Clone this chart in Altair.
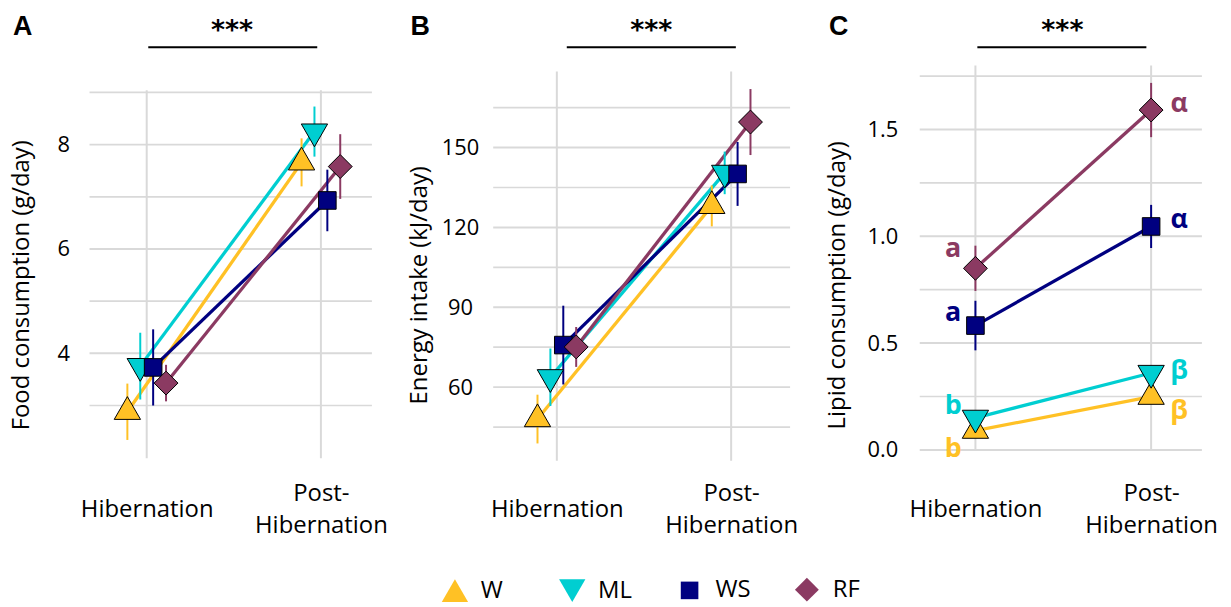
import altair as alt
import pandas as pd

# ---------------- data ----------------
groups = ["W", "ML", "WS", "RF"]
colors = ["#FFC125", "#00CED1", "#000080", "#8B3A62"]
shapes = ["triangle-up", "triangle-down", "square", "diamond"]
marker_sizes = [700, 700, 313, 576]
periods = [1, 2]
dodge = [-0.111, -0.037, 0.037, 0.111]

food_mean = [[2.88, 7.66], [3.755, 8.25], [3.73, 6.93], [3.43, 7.58]]
food_err = [[0.54, 0.46], [0.64, 0.48], [0.73, 0.59], [0.35, 0.62]]
energy_mean = [[48.0, 128.1], [63.7, 140.5], [75.8, 140.1], [75.1, 159.6]]
energy_err = [[9.16, 7.7], [10.8, 8.0], [14.8, 12.0], [7.5, 12.4]]
lipid_mean = [[0.09, 0.249], [0.15, 0.36], [0.582, 1.046], [0.85, 1.591]]
lipid_err = [[0.03, 0.03], [0.03, 0.03], [0.116, 0.101], [0.106, 0.127]]

lipid_letters_hib = ["b", "b", "a", "a"]
lipid_letters_post = ["\u03b2", "\u03b2", "\u03b1", "\u03b1"]
letter_y_hib = [0.005, 0.205, 0.64, 0.94]
letter_y_post = [0.18, 0.371, 1.078, 1.619]
letter_x = [0.873, 2.16]

FONT = "Open Sans"
GRID = "#D9D9D9"


def long_df(means, errs, use_dodge):
    rows = []
    for gi, g in enumerate(groups):
        for pi, p in enumerate(periods):
            rows.append(dict(group=g, hex=colors[gi], period=p,
                             xpos=p + (dodge[gi] if use_dodge else 0.0),
                             mean=means[gi][pi], err=errs[gi][pi]))
    return pd.DataFrame(rows)


cscale = alt.Scale(domain=groups, range=colors)
legend_b = alt.Legend(title=None, orient="none", legendX=-52.5, legendY=514,
                      direction="horizontal", columns=4, gridAlign="all",
                      labelFont=FONT, labelFontSize=24,
                      labelColor="black", symbolSize=620, symbolStrokeColor="black",
                      symbolStrokeWidth=1, symbolOpacity=1, columnPadding=40,
                      labelOffset=12)


def panel(df, ytitle, xdom, xreal, ydom, yreal, majors, minors, fmt,
          width, title_x, label_pad, letter, letter_dx, star_x, sig_x,
          extra=None, legend=None):
    xs = alt.Scale(domain=xdom, nice=False, zero=False)
    ys = alt.Scale(domain=ydom, nice=False, zero=False)
    xax = alt.Axis(values=periods, title=None, grid=False, domain=False,
                   ticks=False, tickSize=0, labelFont=FONT, labelFontSize=24,
                   labelColor="black",
                   labelBaseline=alt.condition("datum.value == 2",
                                               alt.value("line-bottom"),
                                               alt.value("middle")),
                   labelLineHeight=32,
                   labelPadding=49, labelAlign="center", labelFlush=False,
                   labelOverlap=False,
                   labelExpr="datum.value == 1 ? 'Hibernation' : ['Post-', 'Hibernation']")
    yax = alt.Axis(values=majors, title=ytitle, grid=False, domain=False,
                   ticks=False, tickSize=0, format=fmt, labelFont=FONT,
                   labelFontSize=22, labelColor="black", labelAlign="center",
                   labelPadding=label_pad, labelFlush=False, labelOverlap=False,
                   titleFont=FONT, titleFontSize=24, titleFontWeight="normal",
                   titleColor="black", titleAngle=270, titleBaseline="bottom",
                   titleAlign="center", titleX=title_x, titleY=220.6)

    def X(f):
        return alt.X(f, type="quantitative", scale=xs, axis=xax)

    def Y(f):
        return alt.Y(f, type="quantitative", scale=ys, axis=yax)

    hgrid = pd.DataFrame({"v": majors + minors,
                          "w": [2.0] * len(majors) + [1.7] * len(minors)})
    vgrid = pd.DataFrame({"p": periods})
    ann = pd.DataFrame({"x1": [sig_x[0]], "x2": [sig_x[1]], "sx": [star_x],
                        "t": ["***"], "L": [letter]})
    direct = alt.Color("hex:N", scale=None)

    layers = [
        alt.Chart(hgrid).mark_rule(color=GRID).encode(
            y=Y("v"),
            x=alt.XDatum(xreal[0], type="quantitative", scale=xs, axis=xax),
            x2=alt.X2Datum(xreal[1]),
            strokeWidth=alt.StrokeWidth("w:Q", scale=None)),
        alt.Chart(vgrid).mark_rule(color=GRID, strokeWidth=2).encode(
            x=X("p"),
            y=alt.YDatum(yreal[0], type="quantitative", scale=ys, axis=yax),
            y2=alt.Y2Datum(yreal[1])),
        alt.Chart(df).mark_line(strokeWidth=3.3).encode(
            x=X("xpos"), y=Y("mean"), color=direct, detail="group:N"),
        alt.Chart(df).transform_calculate(
            lo="datum.mean - datum.err", hi="datum.mean + datum.err"
        ).mark_rule(strokeWidth=2).encode(
            x=X("xpos"), y=Y("lo"), y2=alt.Y2("hi"), color=direct),
        alt.Chart(df).mark_point(
            filled=True, opacity=1, stroke="black", strokeWidth=1,
            yOffset=alt.expr("datum.group === 'W' ? -3.8 : (datum.group === 'ML' ? 3.8 : 0)")
        ).encode(
            x=X("xpos"), y=Y("mean"),
            color=alt.Color("group:N", scale=cscale, legend=legend),
            shape=alt.Shape("group:N", scale=alt.Scale(domain=groups, range=shapes), legend=legend),
            size=alt.Size("group:N", scale=alt.Scale(type="ordinal", domain=groups, range=marker_sizes),
                          legend=None),
            stroke=alt.value("black"),
            strokeWidth=alt.value(1)),
        alt.Chart(ann).mark_rule(color="black", strokeWidth=2).encode(
            x=X("x1"), x2=alt.X2("x2"), y=alt.value(-18.3)),
        alt.Chart(ann).mark_text(font="DejaVu Sans", fontWeight="bold", fontSize=27,
                                 baseline="alphabetic", align="center", color="black").encode(
            x=X("sx"), y=alt.value(-26.2), text="t:N"),
        alt.Chart(ann).mark_text(font="Liberation Sans", fontWeight="bold", fontSize=27,
                                 baseline="alphabetic", align="left", color="black").encode(
            x=alt.value(letter_dx), y=alt.value(-31), text="L:N"),
    ]
    if extra is not None:
        layers.append(
            alt.Chart(extra).mark_text(font=FONT, fontWeight="bold", fontSize=27,
                                       baseline="middle", align="center").encode(
                x=X("lx"), y=Y("ly"), text="txt:N", color=direct))
    return alt.layer(*layers).properties(width=width, height=398)


food = long_df(food_mean, food_err, True)
energy = long_df(energy_mean, energy_err, True)
lipid = long_df(lipid_mean, lipid_err, False)

lrows = []
for gi, g in enumerate(groups):
    lrows.append(dict(group=g, hex=colors[gi], lx=letter_x[0], ly=letter_y_hib[gi],
                      txt=lipid_letters_hib[gi]))
    lrows.append(dict(group=g, hex=colors[gi], lx=letter_x[1], ly=letter_y_post[gi],
                      txt=lipid_letters_post[gi]))
letters_df = pd.DataFrame(lrows)

pA = panel(food, "Food consumption (g/day)", [0.6718, 2.2928], [0.6718, 2.2928],
           [1.934, 9.518], [1.991, 9.042], [4, 6, 8], [3, 5, 7, 9], "d",
           284, -56, 26.5, "A", -77, 1.49, [1.009, 1.979])
pB = panel(energy, "Energy intake (kJ/day)", [0.6349, 2.3862], [0.6349, 2.3383],
           [32.19, 180.88], [32.30, 178.63], [60, 90, 120, 150], [45, 75, 105, 135, 165], "d",
           307, -61.7, 33.3, "B", -83.3, 1.542, [1.057, 2.027], legend=legend_b)
pC = panel(lipid, "Lipid consumption (g/day)", [0.6831, 2.2903], [0.6831, 2.289],
           [-0.0526, 1.7998], [0.0, 1.80], [0.0, 0.5, 1.0, 1.5], [0.25, 0.75, 1.25, 1.75], ".1f",
           284, -70.7, 37.7, "C", -91.3, 1.495, [1.011, 1.973], extra=letters_df)

chart = alt.hconcat(pA, pB, pC, spacing=122, bounds="flush").resolve_scale(
    color="independent", shape="independent", size="independent"
).properties(
    padding={"left": 1, "top": 3, "right": 5, "bottom": 10},
    background="white"
).configure_view(stroke="transparent", strokeWidth=0)

chart.save("out.html", embed_options={"renderer": "svg", "actions": False})
